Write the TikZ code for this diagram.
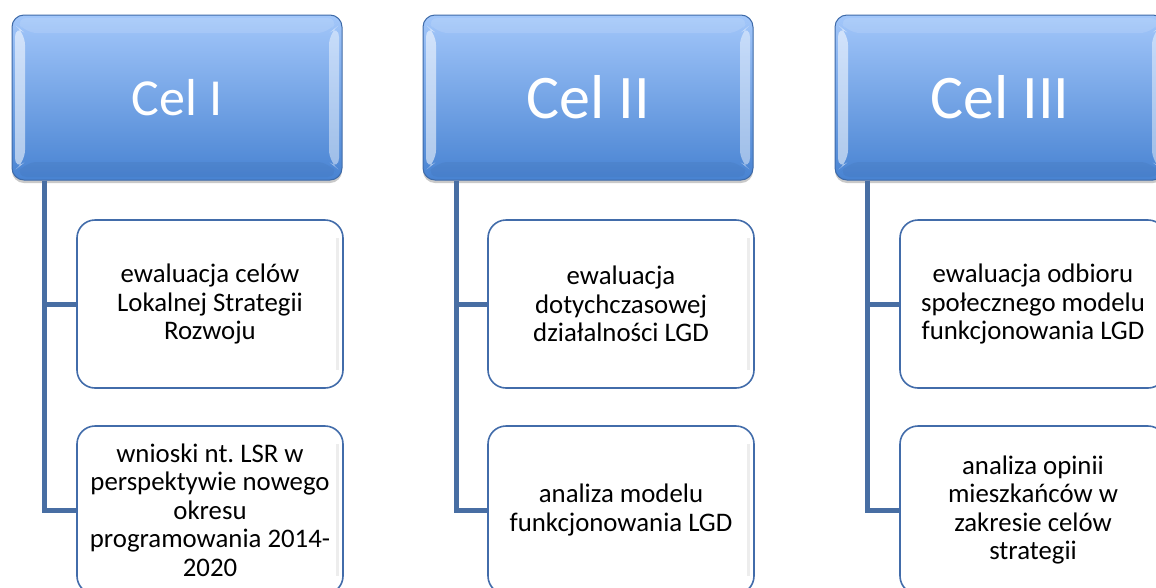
\documentclass[tikz,border=0pt]{standalone}
\usepackage{fontspec}
\setmainfont{Carlito}
\usepackage{xcolor}
\usepackage{tikz}
\usetikzlibrary{shadows}
\frenchspacing

\definecolor{hdrtop}{RGB}{163,199,250}
\definecolor{hdrbot}{RGB}{72,131,210}
\definecolor{hdrline}{RGB}{62,106,168}
\definecolor{boxline}{RGB}{66,108,170}
\definecolor{linkcol}{RGB}{72,110,163}

\begin{document}
\begin{tikzpicture}[x=1pt,y=-1pt,
  hdr/.style={rectangle,rounded corners=12pt,draw=hdrline,line width=1pt,
    top color=hdrtop,bottom color=hdrbot,text=white,inner sep=0pt,
    minimum width=330pt,minimum height=165pt,
    drop shadow={shadow xshift=0pt,shadow yshift=-3pt,opacity=0.3,fill=black!70},
    path picture={
      \fill[white,opacity=.55] ([shift={(3pt,-10pt)}]path picture bounding box.north west)
        -- ([shift={(13pt,-18pt)}]path picture bounding box.north west)
        -- ([shift={(13pt,18pt)}]path picture bounding box.south west)
        -- ([shift={(3pt,10pt)}]path picture bounding box.south west) -- cycle;
      \fill[white,opacity=.45] ([shift={(-3pt,-10pt)}]path picture bounding box.north east)
        -- ([shift={(-13pt,-18pt)}]path picture bounding box.north east)
        -- ([shift={(-13pt,18pt)}]path picture bounding box.south east)
        -- ([shift={(-3pt,10pt)}]path picture bounding box.south east) -- cycle;
      \fill[white,opacity=.12] ([shift={(3pt,-3pt)}]path picture bounding box.north west)
        -- ([shift={(-3pt,-3pt)}]path picture bounding box.north east)
        -- ([shift={(-13pt,-18pt)}]path picture bounding box.north east)
        -- ([shift={(13pt,-18pt)}]path picture bounding box.north west) -- cycle;
      \fill[hdrline,opacity=.18] ([shift={(3pt,3pt)}]path picture bounding box.south west)
        -- ([shift={(-3pt,3pt)}]path picture bounding box.south east)
        -- ([shift={(-13pt,18pt)}]path picture bounding box.south east)
        -- ([shift={(13pt,18pt)}]path picture bounding box.south west) -- cycle;
    }},
  chld/.style={rectangle,rounded corners=18pt,draw=boxline,line width=1.6pt,fill=white,
    minimum width=266pt,minimum height=168pt,inner sep=0pt,align=center,
    font=\fontsize{26.8}{28.5}\selectfont,
    path picture={
      \draw[black!7,line width=3pt] ([shift={(-6pt,-18pt)}]path picture bounding box.north east)
        -- ([shift={(-6pt,18pt)}]path picture bounding box.south east);
    }},
  link/.style={draw=linkcol,line width=5pt}]
  \path[use as bounding box,clip] (0,0) rectangle (1156,587);

  \node[hdr,font=\fontsize{52}{60}\selectfont] (cel1) at (177,97.5) {Cel I};
  \node[hdr,font=\fontsize{62}{72}\selectfont] (cel2) at (588,97.5) {Cel II};
  \node[hdr,font=\fontsize{62}{72}\selectfont] (cel3) at (1000,97.5) {Cel III};

  \node[chld] (cel1a) at (210,304) {ewaluacja celów\\Lokalnej Strategii\\Rozwoju};
  \node[chld] (cel1b) at (210,510) {wnioski nt. LSR w\\perspektywie nowego\\okresu\\programowania 2014-\\2020};
  \node[chld] (cel2a) at (621,304) {ewaluacja\\dotychczasowej\\działalności LGD};
  \node[chld] (cel2b) at (621,510) {analiza modelu\\funkcjonowania LGD};
  \node[chld] (cel3a) at (1033,304) {ewaluacja odbioru\\społecznego modelu\\funkcjonowania LGD};
  \node[chld] (cel3b) at (1033,510) {analiza opinii\\mieszkańców w\\zakresie celów\\strategii};

  \draw[link] ([xshift=33pt]cel1.south west) |- (cel1a.west);
  \draw[link] ([xshift=33pt]cel1.south west) |- (cel1b.west);
  \draw[link] ([xshift=34pt]cel2.south west) |- (cel2a.west);
  \draw[link] ([xshift=34pt]cel2.south west) |- (cel2b.west);
  \draw[link] ([xshift=33pt]cel3.south west) |- (cel3a.west);
  \draw[link] ([xshift=33pt]cel3.south west) |- (cel3b.west);
\end{tikzpicture}
\end{document}
